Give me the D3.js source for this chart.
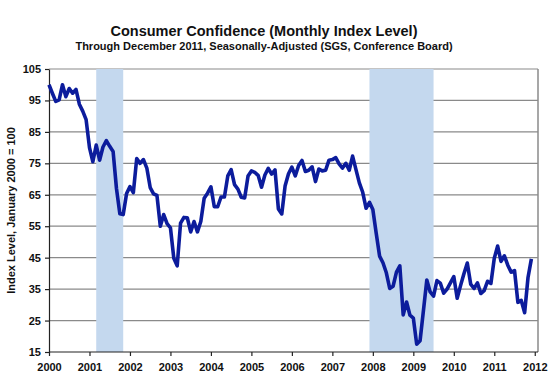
<!DOCTYPE html>
<html lang="en">
<head>
<meta charset="utf-8">
<title>Consumer Confidence</title>
<script src="https://cdn.jsdelivr.net/npm/d3@7"></script>
<style>
  body { margin: 0; background: #fff; }
  text { font-family: Arial, "Liberation Sans", sans-serif; font-weight: bold; fill: #111; }
</style>
</head>
<body>
<script>
// monthly index, Jan 2000 = 100, one array per year
var idx2000 = [100, 97.3, 94.7, 95.2, 100, 96.2, 98.8, 97.3, 98.5, 93.8, 91.6, 88.9];
var idx2001 = [80.0, 75.5, 80.8, 76.0, 80.2, 82.2, 80.4, 78.8, 67.0, 59.0, 58.7, 65.4];
var idx2002 = [67.6, 65.7, 76.5, 75.0, 76.2, 73.5, 67.3, 65.3, 64.8, 55.0, 58.7, 55.8];
var idx2003 = [54.5, 44.8, 42.4, 56.0, 57.8, 57.7, 53.2, 56.5, 53.2, 56.5, 63.9, 65.5];
var idx2004 = [67.5, 61.2, 61.2, 64.3, 64.3, 71.0, 73.0, 68.2, 66.8, 64.2, 64.0, 71.0];
var idx2005 = [72.6, 72.1, 71.2, 67.4, 71.3, 73.4, 71.6, 72.9, 60.5, 58.9, 67.9, 71.7];
var idx2006 = [73.8, 71.0, 74.3, 75.9, 72.4, 72.8, 73.9, 69.2, 73.2, 72.6, 72.8, 76.0];
var idx2007 = [76.2, 76.8, 74.8, 73.5, 75.0, 72.8, 77.3, 73.0, 68.8, 65.8, 60.7, 62.6];
var idx2008 = [60.3, 52.8, 45.5, 43.4, 40.2, 35.2, 35.9, 40.4, 42.4, 26.8, 30.9, 26.7];
var idx2009 = [25.8, 17.5, 18.6, 28.2, 37.9, 34.1, 32.8, 37.7, 36.9, 33.7, 35.0, 37.0];
var idx2010 = [39.0, 32.1, 36.1, 39.9, 43.3, 36.6, 35.2, 37.0, 33.6, 34.5, 37.5, 36.8];
var idx2011 = [44.8, 48.7, 43.8, 45.6, 42.6, 40.4, 40.9, 30.8, 31.4, 27.5, 38.7, 44.6];

var years = [2000, 2001, 2002, 2003, 2004, 2005, 2006, 2007, 2008, 2009, 2010, 2011];
var yearlyValues = [idx2000, idx2001, idx2002, idx2003, idx2004, idx2005,
                    idx2006, idx2007, idx2008, idx2009, idx2010, idx2011];

var xTicks = [2000, 2001, 2002, 2003, 2004, 2005, 2006, 2007, 2008, 2009, 2010, 2011, 2012];
var yTicks = [15, 25, 35, 45, 55, 65, 75, 85, 95, 105];

// recessions (start, end) as decimal years
var recessionStart = [2001 + 2/12, 2007 + 11/12];
var recessionEnd   = [2001 + 10/12, 2009 + 6/12];

var titleText = "Consumer Confidence (Monthly Index Level)";
var subtitleText = "Through December 2011, Seasonally-Adjusted (SGS, Conference Board)";
var yAxisTitle = "Index Level, January 2000 = 100";

// flatten into points
var data = [];
years.forEach(function(yr, i) {
  yearlyValues[i].forEach(function(v, m) {
    data.push({ t: yr + m / 12, v: v });
  });
});

var W = 559, H = 388;
var margin = { left: 49, right: 21, top: 69, bottom: 36 };

var svg = d3.select("body").append("svg")
  .attr("width", W).attr("height", H);

var x = d3.scaleLinear().domain([2000, 2012.08]).range([margin.left, W - margin.right]);
var y = d3.scaleLinear().domain([15, 105]).range([H - margin.bottom, margin.top]);

// title
svg.append("text")
  .attr("x", 264).attr("y", 36)
  .attr("text-anchor", "middle")
  .style("font-size", "14.5px")
  .text(titleText);
svg.append("text")
  .attr("x", 264).attr("y", 50)
  .attr("text-anchor", "middle")
  .style("font-size", "11px")
  .text(subtitleText);

// grid lines
svg.append("g").selectAll("line").data(yTicks.slice(1))
  .enter().append("line")
  .attr("x1", x(2000)).attr("x2", W - margin.right)
  .attr("y1", function(d) { return y(d); })
  .attr("y2", function(d) { return y(d); })
  .style("stroke", "#8a8a8a")
  .style("stroke-width", 1.2);

// right border
svg.append("line")
  .attr("x1", W - margin.right).attr("x2", W - margin.right)
  .attr("y1", y(105)).attr("y2", y(15))
  .style("stroke", "#8a8a8a")
  .style("stroke-width", 1.5);

// recession bands
svg.append("g").selectAll("rect").data(recessionStart)
  .enter().append("rect")
  .attr("x", function(d) { return x(d); })
  .attr("width", function(d, i) { return x(recessionEnd[i]) - x(d); })
  .attr("y", y(105))
  .attr("height", y(15) - y(105))
  .style("fill", "#c4d8ee");

// axes
var xAxis = svg.append("g")
  .attr("transform", "translate(0," + y(15) + ")")
  .call(d3.axisBottom(x).tickValues(xTicks).tickFormat(d3.format("d")).tickSize(4).tickSizeOuter(0));
xAxis.select(".domain").attr("d", "M" + x(2000) + ",0H" + (W - margin.right));
xAxis.selectAll("text").style("font-size", "11px").attr("dy", "1.05em");

var yAxis = svg.append("g")
  .attr("transform", "translate(" + x(2000) + ",0)")
  .call(d3.axisLeft(y).tickValues(yTicks).tickSize(4).tickSizeOuter(0));
yAxis.selectAll("text").style("font-size", "11px").attr("x", -8);
svg.selectAll(".domain, .tick line").style("stroke", "#222").style("stroke-width", 1.2);

// y axis title
svg.append("text")
  .attr("transform", "translate(15," + ((y(15) + y(105)) / 2) + ") rotate(-90)")
  .attr("text-anchor", "middle")
  .style("font-size", "11px")
  .text(yAxisTitle);

// index line
var line = d3.line()
  .x(function(d) { return x(d.t); })
  .y(function(d) { return y(d.v); });

svg.append("path")
  .datum(data)
  .attr("d", line)
  .style("fill", "none")
  .style("stroke", "#0c1c9c")
  .style("stroke-width", 3.6)
  .style("stroke-linejoin", "round");
</script>
</body>
</html>
